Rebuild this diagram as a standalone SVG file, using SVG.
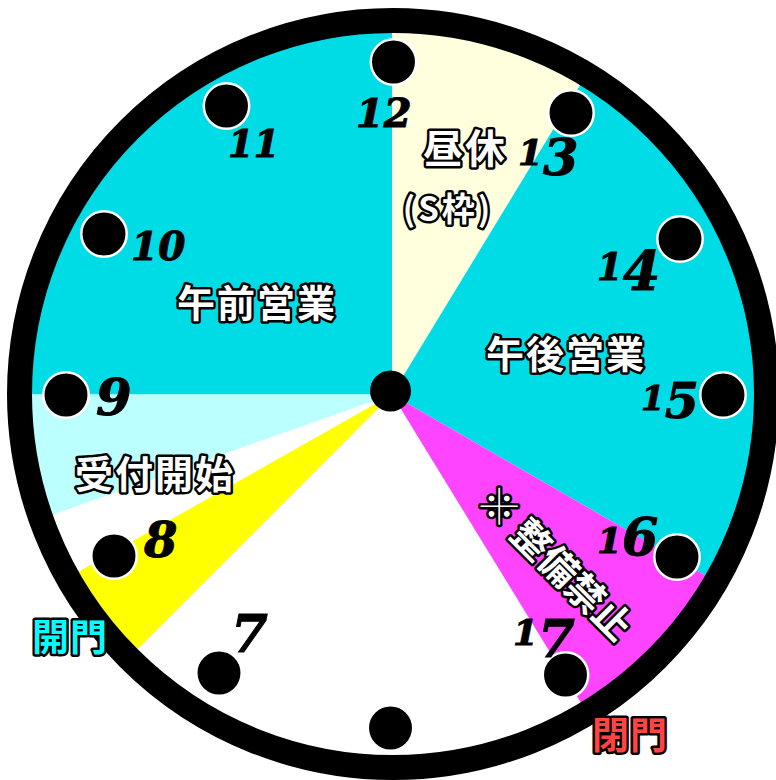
<svg xmlns="http://www.w3.org/2000/svg" width="776" height="780" viewBox="0 0 776 780">
<style>
.num{font-family:"DejaVu Serif","Liberation Serif",serif;font-weight:bold;font-style:italic;fill:#000;stroke:#000;stroke-width:1}
.lbl{font-family:"Noto Sans CJK JP","Noto Sans CJK SC",sans-serif;font-weight:700;fill:#fff;stroke:#000;stroke-width:5;stroke-linejoin:round;paint-order:stroke;text-anchor:middle;dominant-baseline:central}
.dot{fill:#000;stroke:#fff;stroke-width:2.5}
</style>
<rect width="776" height="780" fill="#fff"/>
<g id="sectors">
<path fill="#00DCE5" d="M392,394.5 L12,394.5 A380,380 0 0 1 392,14.5 Z"/>
<path fill="#FFFFDD" d="M392,394.5 L392,14.5 A380,380 0 0 1 589.4,69.8 Z"/>
<path fill="#00DCE5" d="M392,394.5 L589.4,69.8 A380,380 0 0 1 721.1,584.5 Z"/>
<path fill="#FF44FF" d="M392,394.5 L721.1,584.5 A380,380 0 0 1 590.6,718.5 Z"/>
<path fill="#FFFF00" d="M392,394.5 L123.3,663.2 A380,380 0 0 1 61.2,581.6 Z"/>
<path fill="#BBFFFF" d="M392,394.5 L33.8,521.3 A380,380 0 0 1 12,394.5 Z"/>
</g>
<circle id="ring" cx="393" cy="394" r="373.5" fill="none" stroke="#000" stroke-width="25"/>
<g id="dots">
<circle id="dot12" class="dot" cx="393.5" cy="62" r="22.7"/>
<circle id="dot13" class="dot" cx="571" cy="113" r="22.7"/>
<circle id="dot14" class="dot" cx="680" cy="239" r="22.7"/>
<circle id="dot15" class="dot" cx="723" cy="395" r="22.7"/>
<circle id="dot16" class="dot" cx="677" cy="557" r="22.7"/>
<circle id="dot17" class="dot" cx="565.5" cy="675" r="22.7"/>
<circle id="dot6" class="dot" cx="390.5" cy="728" r="22.7"/>
<circle id="dot7" class="dot" cx="219" cy="673" r="22.7"/>
<circle id="dot8" class="dot" cx="114" cy="556" r="22.7"/>
<circle id="dot9" class="dot" cx="66" cy="395" r="22.7"/>
<circle id="dot10" class="dot" cx="104" cy="234" r="22.7"/>
<circle id="dot11" class="dot" cx="226.5" cy="106" r="22.7"/>
<circle id="center" cx="390.5" cy="391" r="20.5" fill="#000"/>
</g>
<g id="numbers">
<text id="n11" class="num" x="228" y="157" font-size="37">11</text>
<text id="n12" class="num" x="356" y="127" font-size="40">12</text>
<text id="n10" class="num" x="131" y="260" font-size="39">10</text>
<text id="n9" class="num" x="96" y="415" font-size="51">9</text>
<text id="n8" class="num" x="144" y="557" font-size="48">8</text>
<text id="n7" class="num" x="231" y="652" font-size="53">7</text>
<text id="n13" class="num" x="518" y="165" font-size="36">1<tspan y="175" font-size="51">3</tspan></text>
<text id="n14" class="num" x="597" y="280" font-size="37">1<tspan y="290" font-size="54">4</tspan></text>
<text id="n15" class="num" x="641" y="410" font-size="34">1<tspan y="418" font-size="49">5</tspan></text>
<text id="n16" class="num" x="597" y="553" font-size="36">1<tspan y="555" font-size="52">6</tspan></text>
<text id="n17" class="num" x="513" y="645" font-size="36">1<tspan y="657" font-size="53">7</tspan></text>
</g>
<g id="labels">
<g id="morning"><text class="lbl" x="257" y="300" font-size="38" letter-spacing="2">午前営業</text></g>
<g id="afternoon"><text class="lbl" x="566" y="351.5" font-size="38" letter-spacing="2">午後営業</text></g>
<g id="reception"><text class="lbl" x="155" y="471" font-size="38" letter-spacing="2">受付開始</text></g>
<g id="lunch"><text class="lbl" x="465" y="146" font-size="40" letter-spacing="2">昼休</text>
<text class="lbl" x="448" y="207" font-size="33" letter-spacing="3">(S枠)</text></g>
<g id="open"><text class="lbl" x="70" y="635" font-size="37" style="fill:#00FFFF" letter-spacing="1">開門</text></g>
<g id="close"><text class="lbl" x="630" y="732.5" font-size="37" style="fill:#FF4444" letter-spacing="1">閉門</text></g>
<g id="maintenance" transform="translate(557.5,561.5) rotate(45)"><text class="lbl" x="0" y="0" font-size="38">※ 整備禁止</text></g>
</g>
</svg>
